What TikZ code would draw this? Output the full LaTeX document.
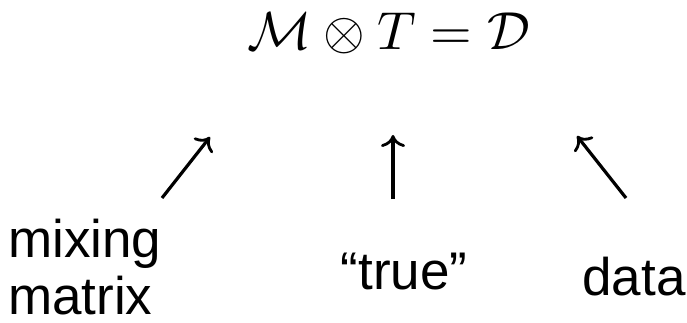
\documentclass[tikz,border=0pt]{standalone}
\usepackage{fontspec}
\setmainfont{Liberation Sans}
\usetikzlibrary{arrows.meta}
\begin{document}
\begin{tikzpicture}[x=1pt,y=-1pt,
  lbl/.style={inner sep=0pt,font=\fontsize{53}{57}\selectfont},
  arr/.style={line width=3.2pt,-{Computer Modern Rightarrow[length=12pt,width=24pt,line width=2.8pt]}}]
\useasboundingbox (0,0) rectangle (687,323);
\node[inner sep=0pt,anchor=base] (eq) at (389,50) {\scalebox{5.35}{$\mathcal{M}\otimes T=\mathcal{D}$}};
\node[lbl,anchor=base west,align=left] (mm) at (8,314) {mixing\\matrix};
\node[lbl,anchor=base] (tr) at (404,289) {“true”};
\node[lbl,anchor=base] (da) at (634,295) {data};
\coordinate (a1s) at (162,198);
\coordinate (a1e) at (210,137);
\coordinate (a2s) at (393,199);
\coordinate (a2e) at (393,135);
\coordinate (a3s) at (626,198);
\coordinate (a3e) at (577,136);
\draw[arr] (a1s) -- (a1e);
\draw[arr] (a2s) -- (a2e);
\draw[arr] (a3s) -- (a3e);
\end{tikzpicture}
\end{document}
